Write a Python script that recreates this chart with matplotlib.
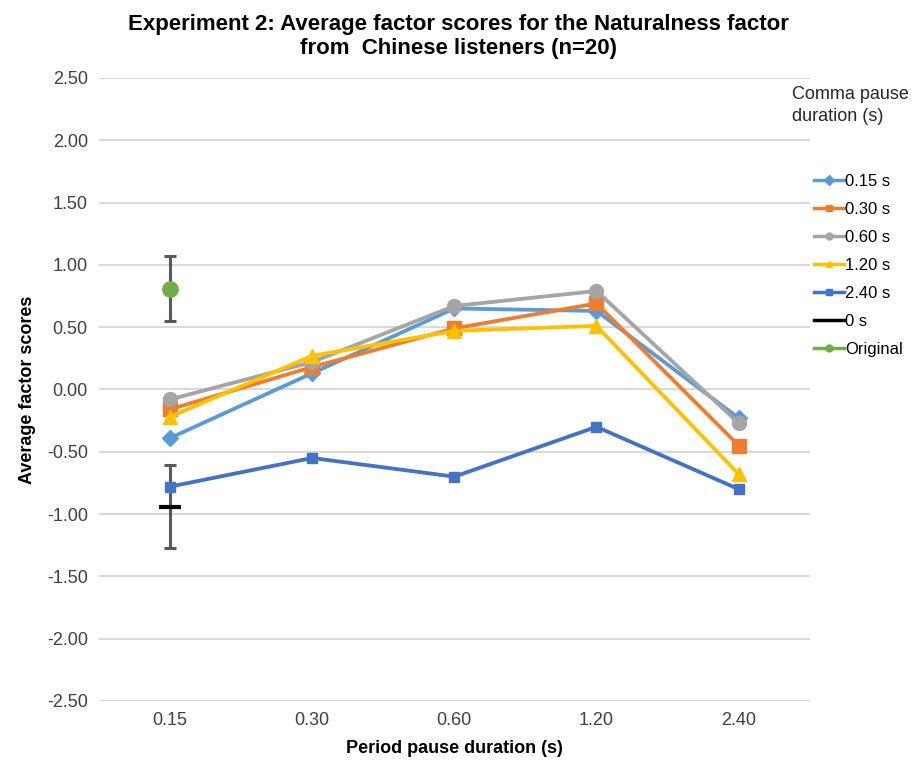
import matplotlib.pyplot as plt
from matplotlib.lines import Line2D

plt.rcParams['font.family'] = ['Liberation Sans', 'DejaVu Sans']

periodo = ['0.15', '0.30', '0.60', '1.20', '2.40']

s015 = [-0.39, 0.13, 0.65, 0.63, -0.23]
s030 = [-0.16, 0.18, 0.49, 0.69, -0.45]
s060 = [-0.08, 0.22, 0.67, 0.79, -0.27]
s120 = [-0.22, 0.27, 0.47, 0.51, -0.68]
s240 = [-0.78, -0.55, -0.70, -0.30, -0.80]

zero_val, zero_err = -0.94, 0.335
orig_val, orig_err = 0.81, 0.26

x = list(range(len(periodo)))

fig = plt.figure(figsize=(9.16, 7.64), dpi=100)
ax = fig.add_axes([0.108, 0.0825, 0.776, 0.8155])

series = [
    ('0.15 s', s015, '#5B9BD5', 'D', 8),
    ('0.30 s', s030, '#ED7D31', 's', 10),
    ('0.60 s', s060, '#A5A5A5', 'o', 10),
    ('1.20 s', s120, '#FFC000', '^', 10),
    ('2.40 s', s240, '#4472C4', 's', 7),
]
handles = []
for nome, vals, cor, mk, ms in series:
    ax.plot(x, vals, color=cor, marker=mk, markersize=ms, linewidth=2.75, zorder=3)
    handles.append(Line2D([], [], color=cor, marker=mk, markersize=5, linewidth=2.5, label=nome))

# 0 s e Original (so no primeiro ponto, com barras de erro)
ax.errorbar([0], [zero_val], yerr=[zero_err], fmt='none', ecolor='#595959',
            elinewidth=2.2, capsize=4, capthick=2.2, zorder=2)
ax.plot([0], [zero_val], marker='_', color='black', markersize=16, mew=3, zorder=4)
ax.errorbar([0], [orig_val], yerr=[orig_err], fmt='none', ecolor='#595959',
            elinewidth=2.2, capsize=4, capthick=2.2, zorder=2)
ax.plot([0], [orig_val], marker='o', color='#70AD47', markersize=11, zorder=4)
handles.append(Line2D([], [], color='black', linewidth=2.5, label='0 s'))
handles.append(Line2D([], [], color='#70AD47', marker='o', markersize=5, linewidth=2.5, label='Original'))

ax.set_xlim(-0.5, 4.5)
ax.set_ylim(-2.5, 2.5)
ax.set_xticks(x)
ax.set_xticklabels(periodo)
ax.set_yticks([i * 0.5 for i in range(-5, 6)])
ax.yaxis.set_major_formatter(plt.FuncFormatter(lambda v, _: f'{v:.2f}'))
ax.tick_params(length=0, labelsize=13, colors='#404040', pad=8)
ax.grid(axis='y', color='#D9D9D9', linewidth=1.5)
ax.set_axisbelow(True)
for s in ax.spines.values():
    s.set_visible(False)

ax.set_xlabel('Period pause duration (s)', fontsize=13, fontweight='bold', labelpad=8)
ax.set_ylabel('Average factor scores', fontsize=13, fontweight='bold', labelpad=8)
fig.suptitle('Experiment 2: Average factor scores for the Naturalness factor\nfrom  Chinese listeners (n=20)',
             fontsize=16, fontweight='bold', y=0.982)

fig.text(0.865, 0.862, 'Comma pause\nduration (s)', fontsize=13, va='center', ha='left',
         color='#262626', linespacing=1.35)
fig.legend(handles=handles, loc='center left', bbox_to_anchor=(0.872, 0.653), frameon=False,
           fontsize=12, handlelength=1.8, handletextpad=0.1, labelspacing=0.78)

plt.savefig('out.png', dpi=100)
